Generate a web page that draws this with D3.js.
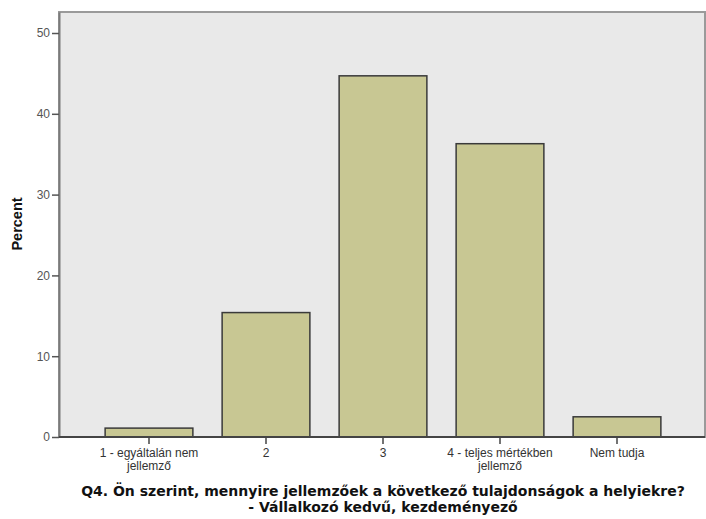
<!DOCTYPE html>
<html><head><meta charset="utf-8">
<script src="https://cdn.jsdelivr.net/npm/d3@7"></script>
<style>body{margin:0;background:#fff}svg{display:block}</style>
</head><body>
<svg id="c" width="706" height="519"></svg>
<script>
const categories = ["1 - egyáltalán nem|jellemző", "2", "3", "4 - teljes mértékben|jellemző", "Nem tudja"];
const percents = [1.1, 15.4, 44.7, 36.3, 2.5];
const yTicks = [0, 10, 20, 30, 40, 50];
const yMax = 52.6;
const yLabel = "Percent";
const titleLines = ["Q4. Ön szerint, mennyire jellemzőek a következő tulajdonságok a helyiekre?", "- Vállalkozó kedvű, kezdeményező"];

const svg = d3.select("#c");
const plot = {left: 59, right: 705, top: 12, bottom: 437};

svg.append("rect").attr("x", plot.left).attr("y", plot.top)
  .attr("width", plot.right - plot.left).attr("height", plot.bottom - plot.top)
  .attr("fill", "#e9e9e9").attr("stroke", "#9a9a9a").attr("stroke-width", 2);

const x = d3.scaleBand().domain(categories).range([90.5, 675.5]).paddingInner(0.25).paddingOuter(0.125);
const y = d3.scaleLinear().domain([0, yMax]).range([plot.bottom, plot.top]);

svg.selectAll("rect.bar").data(categories).join("rect").attr("class", "bar")
  .attr("x", d => x(d)).attr("width", x.bandwidth())
  .attr("y", (d, i) => y(percents[i])).attr("height", (d, i) => y(0) - y(percents[i]))
  .attr("fill", "#c8c793").attr("stroke", "#3a3a3a").attr("stroke-width", 1.5);

// y axis
const ya = svg.append("g").attr("transform", `translate(${plot.left},0)`)
  .call(d3.axisLeft(y).tickValues(yTicks).tickSize(7).tickSizeOuter(0).tickPadding(2));
ya.select(".domain").attr("stroke", "#7a7a7a").attr("stroke-width", 2);
ya.selectAll(".tick line").attr("stroke", "#555").attr("stroke-width", 1.5);
ya.selectAll(".tick text").attr("fill", "#555").attr("font-family", "Arial, 'Liberation Sans', sans-serif").attr("font-size", 12);

// x axis
const xa = svg.append("g").attr("transform", `translate(0,${plot.bottom})`)
  .call(d3.axisBottom(x).tickSize(7).tickSizeOuter(0).tickFormat(""));
xa.select(".domain").remove();
svg.append("line").attr("x1", plot.left).attr("x2", plot.right).attr("y1", plot.bottom).attr("y2", plot.bottom)
  .attr("stroke", "#444").attr("stroke-width", 2);
xa.selectAll(".tick line").attr("stroke", "#444").attr("stroke-width", 1.5);
xa.selectAll(".tick").each(function(d) {
  const parts = d.split("|");
  const t = d3.select(this).append("text").attr("fill", "#333")
    .attr("font-family", "Arial, 'Liberation Sans', sans-serif").attr("font-size", 12)
    .attr("text-anchor", "middle");
  parts.forEach((p, i) => t.append("tspan").attr("x", 0).attr("y", 20 + i * 13).text(p));
});

svg.append("text").attr("transform", "translate(22,224) rotate(-90)")
  .attr("text-anchor", "middle").attr("font-family", "Arial, 'Liberation Sans', sans-serif")
  .attr("font-weight", "bold").attr("font-size", 14.5).attr("fill", "#111").text(yLabel);

const tt = svg.append("text").attr("text-anchor", "middle")
  .attr("font-family", "'DejaVu Sans', Verdana, sans-serif").attr("font-weight", "bold")
  .attr("font-size", 14).attr("fill", "#111");
titleLines.forEach((l, i) => tt.append("tspan").attr("x", 383).attr("y", 496 + i * 16).text(l));
</script>
</body></html>
